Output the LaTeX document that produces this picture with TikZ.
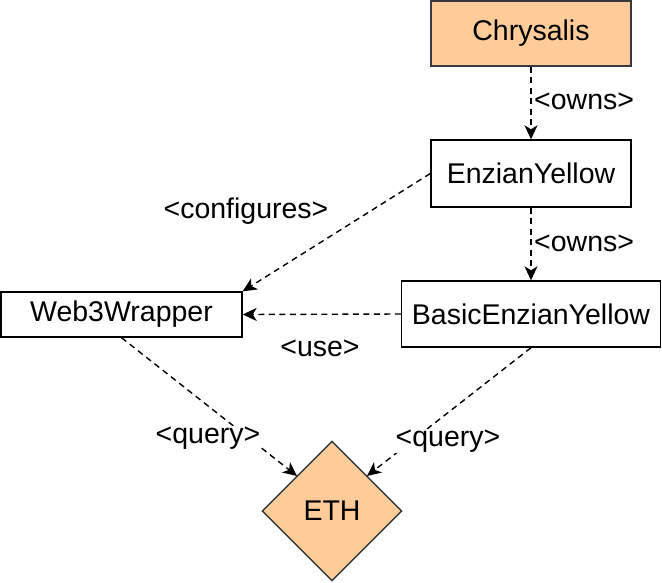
\documentclass[tikz,border=0pt]{standalone}
\usepackage{fontspec}
\setmainfont{Liberation Sans}
\usetikzlibrary{shapes.geometric,arrows.meta}
\definecolor{peach}{HTML}{FFCC99}
\definecolor{peachline}{HTML}{36393D}
\begin{document}
\begin{tikzpicture}[x=1pt,y=-1pt,
  every node/.style={font=\fontsize{28.5}{34}\selectfont, inner sep=0pt},
  box/.style={draw=black, line width=1.4pt, fill=white, rectangle},
  orangebox/.style={draw=peachline, line width=1.4pt, fill=peach, rectangle},
  ethshape/.style={draw=peachline, line width=1.4pt, fill=peach, diamond, aspect=1},
  conn/.style={line width=1.4pt, dash pattern=on 6pt off 4.5pt, -{Stealth[length=14pt,width=13pt,inset=4pt]}},
  lbl/.style={fill=white, inner sep=1pt}
]
\useasboundingbox (0,0) rectangle (662,582);
\node[orangebox, minimum width=200pt, minimum height=65pt] (chry) at (531,33.5) {Chrysalis};
\node[box, minimum width=200pt, minimum height=67pt] (enz) at (531,173.5) {EnzianYellow};
\node[box, minimum width=241pt, minimum height=45pt] (web) at (121.5,314.5) {Web3Wrapper};
\node[box, minimum width=259pt, minimum height=66pt] (basic) at (531,314) {BasicEnzianYellow};
\node[ethshape, minimum width=140pt, minimum height=140pt] (eth) at (332,511) {ETH};

\coordinate (ethL) at (297,476);
\coordinate (ethR) at (367,476);

\draw[conn] (chry.south) -- (enz.north);
\node[anchor=west] (l1) at (534,101) {<owns>};
\draw[conn] (enz.south) -- (basic.north);
\node[anchor=west] (l2) at (534,243) {<owns>};
\draw[conn] (enz.west) -- (web.north east);
\node (l3) at (246,211) {<configures>};
\draw[conn] (basic.west) -- (web.east);
\node (l4) at (320,348) {<use>};
\draw[conn] (web.south) -- (ethL);
\node[lbl] (l5) at (208,438) {<query>};
\draw[conn] (basic.south) -- (ethR);
\node[lbl] (l6) at (448,441) {<query>};
\end{tikzpicture}
\end{document}
